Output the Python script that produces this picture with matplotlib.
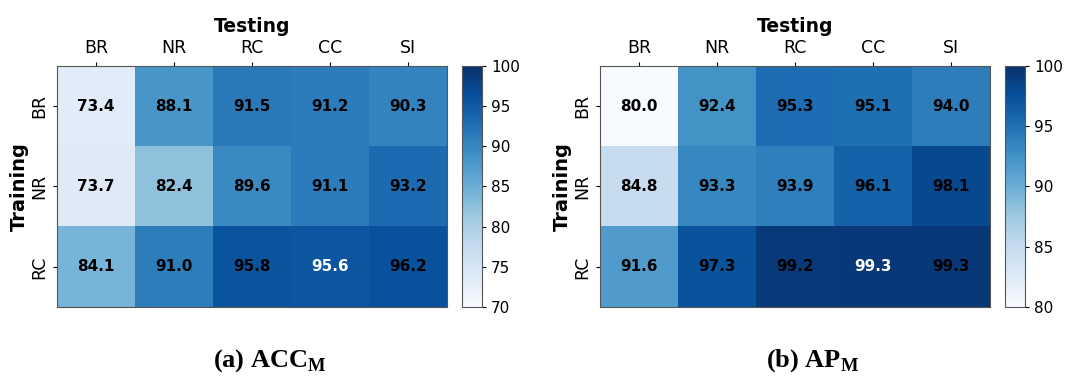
import numpy as np
import matplotlib
matplotlib.use("Agg")
import matplotlib.pyplot as plt

# labels
test_labels = ["BR", "NR", "RC", "CC", "SI"]
train_labels = ["BR", "NR", "RC"]

# (a) ACC_M
acc = np.array([
    [73.4, 88.1, 91.5, 91.2, 90.3],
    [73.7, 82.4, 89.6, 91.1, 93.2],
    [84.1, 91.0, 95.8, 95.6, 96.2],
])

# (b) AP_M
ap = np.array([
    [80.0, 92.4, 95.3, 95.1, 94.0],
    [84.8, 93.3, 93.9, 96.1, 98.1],
    [91.6, 97.3, 99.2, 99.3, 99.3],
])

plt.rcParams["mathtext.fontset"] = "custom"
plt.rcParams["mathtext.bf"] = "Liberation Serif:bold"
plt.rcParams["mathtext.rm"] = "Liberation Serif:bold"

fig = plt.figure(figsize=(10.8, 3.76), dpi=100)


def draw(data, vmin, vmax, x0, cx0, white_cells, caption, cap_x):
    ax = fig.add_axes([x0, 0.1835, 0.361, 0.641])
    cax = fig.add_axes([cx0, 0.1835, 0.0185, 0.641])
    im = ax.imshow(data, cmap="Blues", vmin=vmin, vmax=vmax, aspect="auto")

    for i in range(data.shape[0]):
        for j in range(data.shape[1]):
            col = "white" if (i, j) in white_cells else "black"
            ax.text(j, i, "%.1f" % data[i, j], ha="center", va="center",
                    fontsize=11, fontweight="bold", color=col)

    ax.set_xticks(range(len(test_labels)))
    ax.set_xticklabels(test_labels, fontsize=12.5)
    ax.set_yticks(range(len(train_labels)))
    ax.set_yticklabels(train_labels, fontsize=12.5, rotation=90, va="center")
    ax.tick_params(length=3)
    ax.xaxis.tick_top()
    ax.xaxis.set_label_position("top")
    ax.set_xlabel("Testing", fontsize=13.5, fontweight="bold", labelpad=5)
    ax.set_ylabel("Training", fontsize=14, fontweight="bold", labelpad=1)
    for s in ax.spines.values():
        s.set_color("#555555")

    cb = fig.colorbar(im, cax=cax)
    cb.set_ticks(np.arange(vmin, vmax + 1, 5))
    cb.ax.tick_params(labelsize=11, length=3)
    cb.outline.set_edgecolor("#555555")

    fig.text(cap_x, 0.042, caption, ha="center", va="center",
             fontsize=19, fontweight="bold", family="Liberation Serif")


draw(acc, 70, 100, 0.0528, 0.4278, [(2, 3)], r"(a) ACC$_\mathbf{M}$", 0.25)
draw(ap, 80, 100, 0.5556, 0.9306, [(2, 3)], r"(b) AP$_\mathbf{M}$", 0.752)

fig.savefig("out.png", dpi=100)
